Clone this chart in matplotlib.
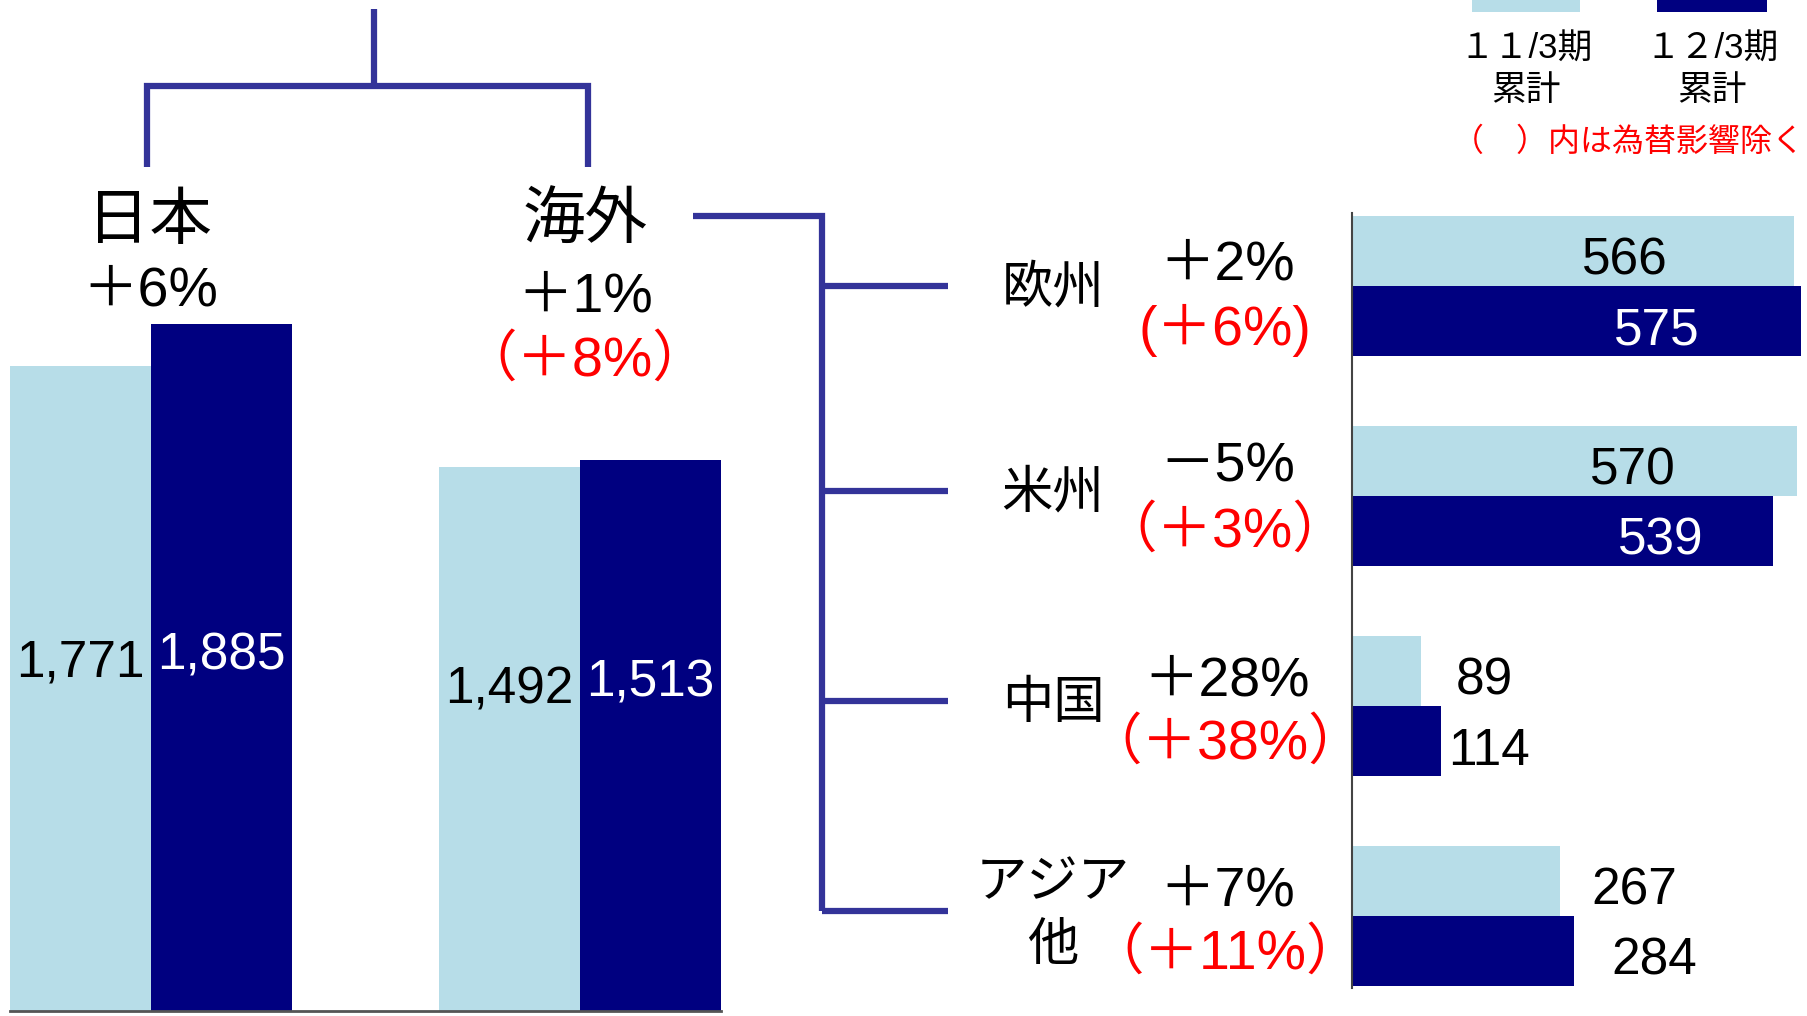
import matplotlib
matplotlib.use("Agg")
import matplotlib.pyplot as plt

# 売上高（億円） 11/3期累計 vs 12/3期累計
areas = ["日本", "海外"]
area_prev = [1771, 1492]
area_curr = [1885, 1513]
area_growth = ["＋6%", "＋1%"]
area_growth_fx = [None, "（＋8%）"]

regions = ["欧州", "米州", "中国", "アジア"]
region_sub = ["", "", "", "他"]
region_prev = [566, 570, 89, 267]
region_curr = [575, 539, 114, 284]
region_growth = ["＋2%", "－5%", "＋28%", "＋7%"]
region_growth_fx = ["(＋6%)", "（＋3%）", "（＋38%）", "（＋11%）"]

legend_labels = ["１１/3期\n累計", "１２/3期\n累計"]
fx_note = "（　）内は為替影響除く"

LIGHT = "#B7DDE8"
DARK = "#000080"
LINE = "#333399"
RED = "#FF0000"
JP = ["Noto Sans CJK JP", "DejaVu Sans"]
NUM = ["Liberation Sans", "DejaVu Sans"]
MIX = ["Liberation Sans", "Noto Sans CJK JP"]

W, H = 1807, 1016
fig = plt.figure(figsize=(W / 100, H / 100), dpi=100)


def px_axes(x0, y0, x1, y1):
    # axes placed by pixel box (top-left origin)
    return fig.add_axes([x0 / W, 1 - y1 / H, (x1 - x0) / W, (y1 - y0) / H])


# overlay for tree lines and labels
ov = px_axes(0, 0, W, H)
ov.set_xlim(0, W)
ov.set_ylim(H, 0)
ov.axis("off")

# ---- left: 日本 / 海外 columns ----
ax = px_axes(0, 0, 760, 1011)
ax.set_facecolor("none")
bw = 0.329
xs = range(len(areas))
ax.bar([x - bw / 2 for x in xs], area_prev, bw, color=LIGHT)
ax.bar([x + bw / 2 for x in xs], area_curr, bw, color=DARK)
ax.set_xlim(-0.352, 1.42)
ax.set_ylim(0, 2774)
for s in ["top", "right", "left"]:
    ax.spines[s].set_visible(False)
ax.spines["bottom"].set_bounds(-bw, 1 + bw)
ax.spines["bottom"].set_color("#555555")
ax.spines["bottom"].set_linewidth(2)
ax.set_xticks([])
ax.set_yticks([])
label_h = [(955, 975), (880, 900)]
for i in xs:
    ax.text(i - bw / 2, label_h[i][0], f"{area_prev[i]:,}", ha="center", va="center",
            fontsize=37, family=NUM, color="black")
    ax.text(i + bw / 2, label_h[i][1], f"{area_curr[i]:,}", ha="center", va="center",
            fontsize=37, family=NUM, color="white")

# ---- right: regional horizontal bars ----
rx = px_axes(1352, 213, W, 988)
rx.set_facecolor("none")
bh = 0.333
ys = range(len(regions))
rx.barh([y - bh / 2 for y in ys], region_prev, bh, color=LIGHT)
rx.barh([y + bh / 2 for y in ys], region_curr, bh, color=DARK)
rx.set_xlim(0, 583)
rx.set_ylim(3.344, -0.347)
for s in ["top", "right", "bottom"]:
    rx.spines[s].set_visible(False)
rx.spines["left"].set_color("#444444")
rx.spines["left"].set_linewidth(1.5)
rx.set_xticks([])
rx.set_yticks([])
# value label x (data units) and colours
prev_lx = [350, 360, 170, 362]
curr_lx = [390, 396, 176, 387]
prev_col = ["black", "black", "black", "black"]
curr_col = ["white", "white", "black", "black"]
for i in ys:
    rx.text(prev_lx[i], i - bh / 2 + 0.05, str(region_prev[i]), ha="center", va="center",
            fontsize=37, family=NUM, color=prev_col[i])
    rx.text(curr_lx[i], i + bh / 2 + 0.05, str(region_curr[i]), ha="center", va="center",
            fontsize=37, family=NUM, color=curr_col[i])

# ---- tree connectors ----
lw = 4.5
ov.plot([374.5, 374.5], [9, 86], color=LINE, lw=lw, solid_capstyle="butt")
ov.plot([147.5, 147.5, 588, 588], [167, 86, 86, 167], color=LINE, lw=lw,
        solid_joinstyle="miter", solid_capstyle="butt")
branch_y = [285.8 + 210 * i - 5 * min(i, 1) for i in ys]
ov.plot([692.6, 821.7, 821.7], [215.5, 215.5, branch_y[-1]], color=LINE, lw=lw,
        solid_joinstyle="miter", solid_capstyle="butt")
for by in branch_y:
    ov.plot([821.7, 948.4], [by, by], color=LINE, lw=lw, solid_capstyle="butt")

# ---- area labels ----
area_cx = [150, 585]
for i, name in enumerate(areas):
    ov.text(area_cx[i], 221, name, ha="center", va="center", fontsize=45, family=JP)
    ov.text(area_cx[i], 292 + 5 * i, area_growth[i], ha="center", va="center",
            fontsize=40, family=MIX)
    if area_growth_fx[i]:
        ov.text(area_cx[i], 361, area_growth_fx[i], ha="center", va="center",
                fontsize=40, family=MIX, color=RED)

# ---- region labels ----
name_y = [288, 493, 703, 882]
pct_y = [265, 468, 681, 891]
fx_y = [330, 532, 744, 954]
for i, name in enumerate(regions):
    ov.text(1053, name_y[i], name, ha="center", va="center", fontsize=37, family=JP)
    if region_sub[i]:
        ov.text(1053, name_y[i] + 63, region_sub[i], ha="center", va="center",
                fontsize=37, family=JP)
    ov.text(1227, pct_y[i], region_growth[i], ha="center", va="center", fontsize=40,
            family=MIX)
    ov.text(1225, fx_y[i], region_growth_fx[i], ha="center", va="center", fontsize=40,
            family=MIX, color=RED)

# ---- legend ----
sw = [(1472, 1580, LIGHT), (1657, 1767, DARK)]
for (x0, x1, c), lab in zip(sw, legend_labels):
    ov.fill_between([x0, x1], 0, 12, color=c, lw=0)
    ov.text((x0 + x1) / 2, 70, lab, ha="center", va="center", fontsize=25, family=MIX,
            linespacing=1.3)
ov.text(1628, 142, fx_note, ha="center", va="center", fontsize=23, family=JP, color=RED)

fig.savefig("out.png", dpi=100)
